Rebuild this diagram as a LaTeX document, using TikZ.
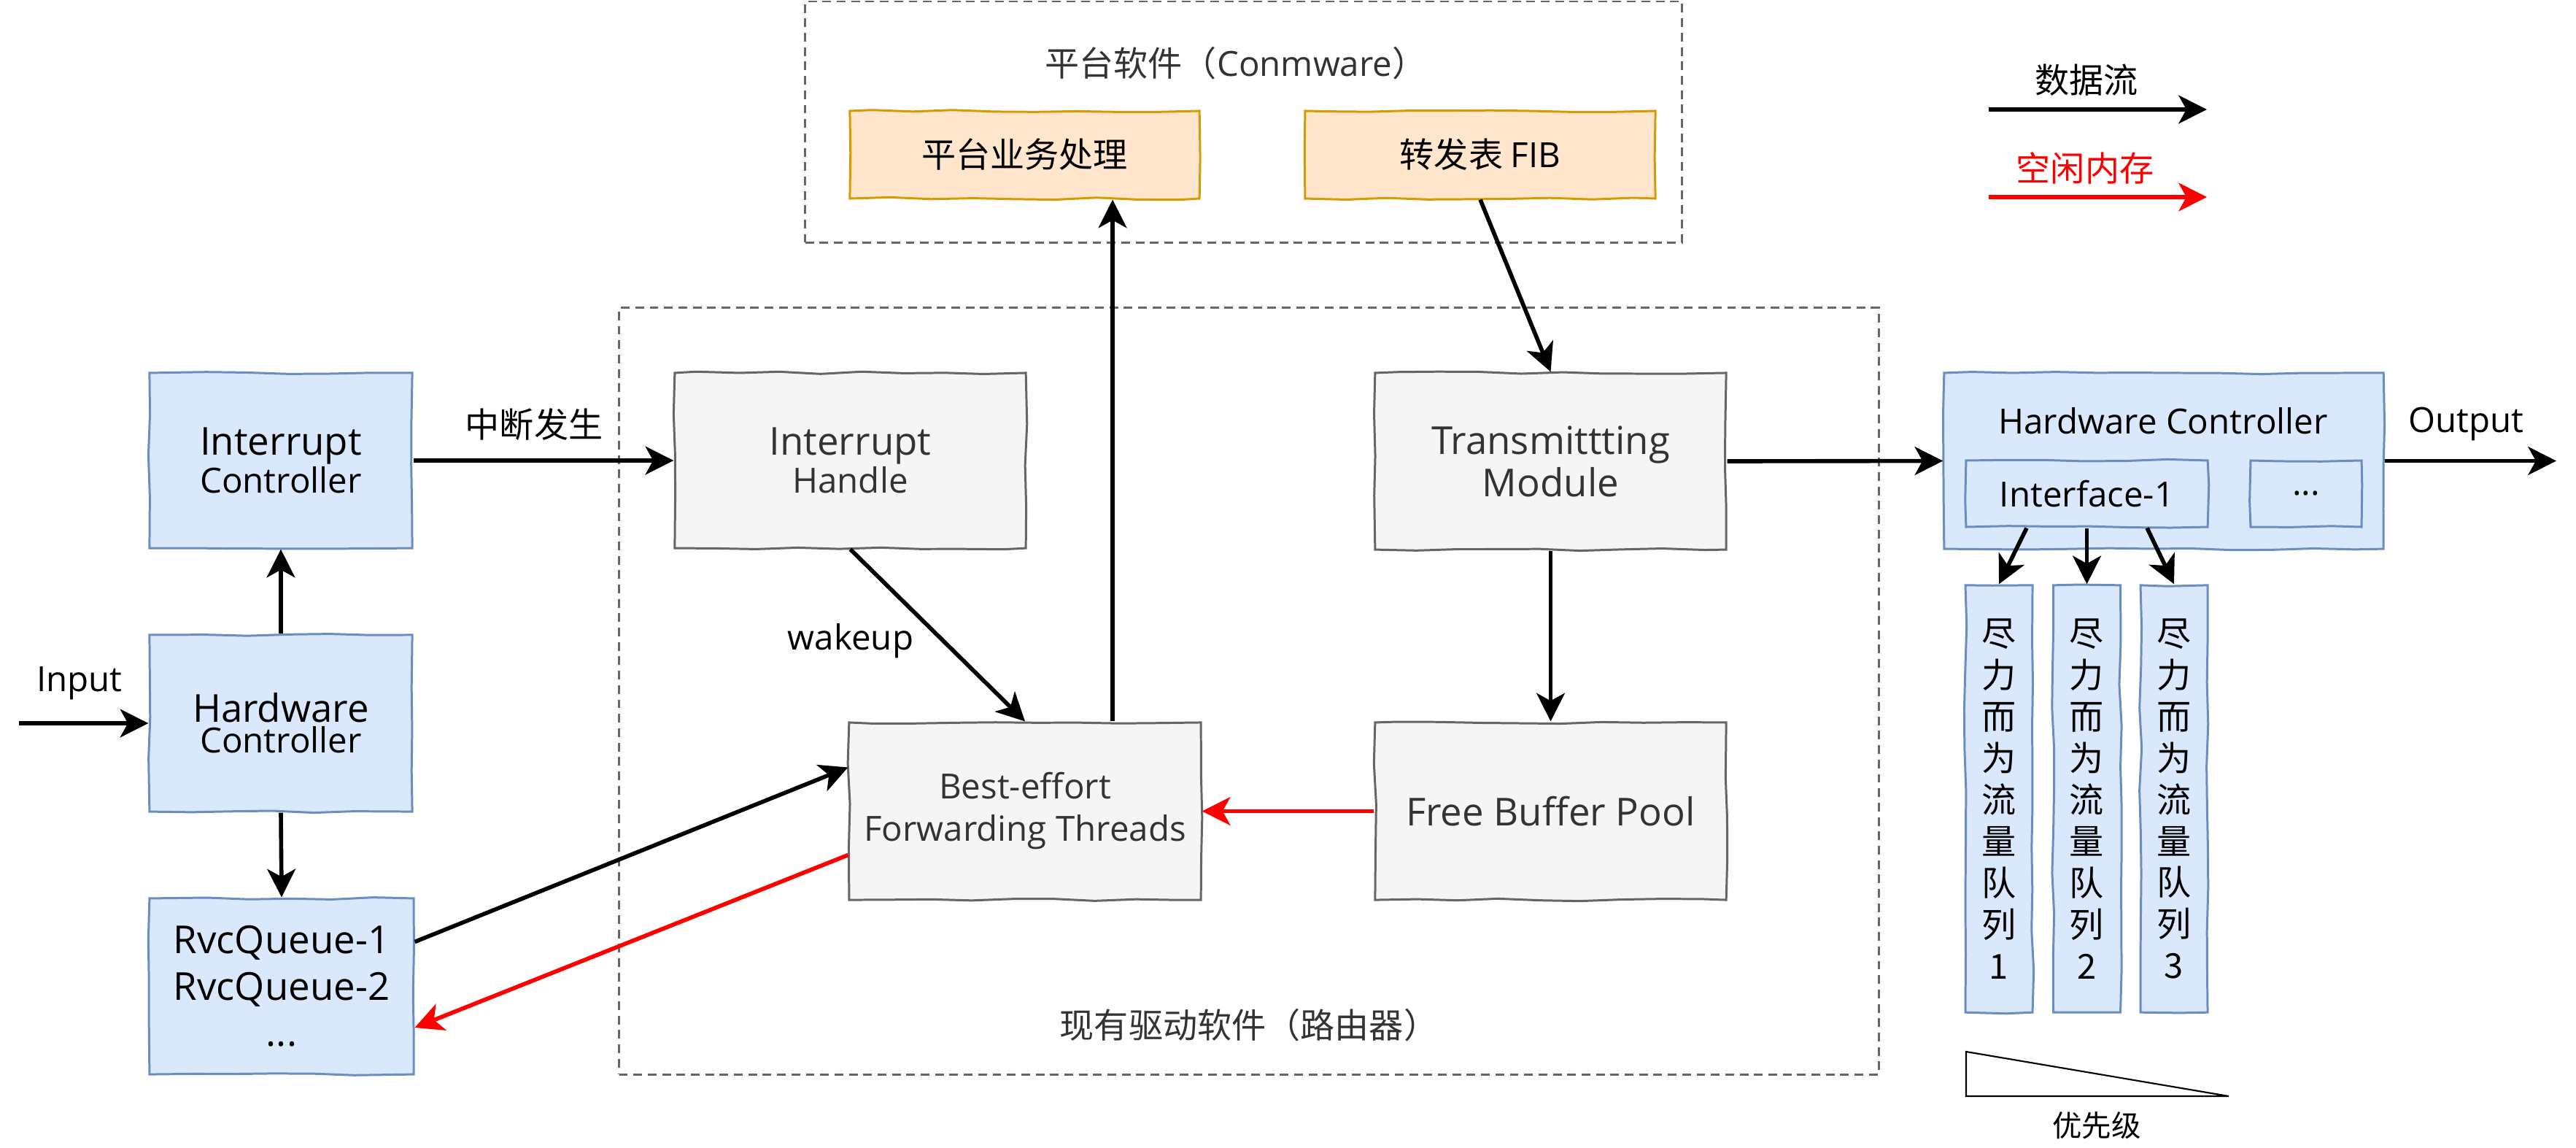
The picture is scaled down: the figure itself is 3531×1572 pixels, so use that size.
\documentclass[tikz,border=0pt]{standalone}
\usepackage{fontspec}
\setmainfont{Open Sans}
\newfontfamily\cjk{Noto Sans CJK SC}
\usetikzlibrary{arrows.meta,decorations.pathmorphing,calc}
\definecolor{bluefill}{HTML}{DAE8FC}
\definecolor{blueline}{HTML}{6C8EBF}
\definecolor{grayfill}{HTML}{F5F5F5}
\definecolor{grayline}{HTML}{666666}
\definecolor{graytext}{HTML}{333333}
\definecolor{orangefill}{HTML}{FFE6CC}
\definecolor{orangeline}{HTML}{D79B00}
\definecolor{redline}{HTML}{FF0000}
\newcommand{\fA}{\fontsize{15}{16.5}\selectfont}
\newcommand{\fB}{\fontsize{13.5}{16.5}\selectfont}
\newcommand{\fC}{\cjk\fontsize{13.4}{16.2}\selectfont}
\begin{document}
\begin{tikzpicture}[x=0.01cm,y=-0.01cm,
  sketch/.style={decorate,decoration={random steps,segment length=16pt,amplitude=0.5pt}},
  box/.style={sketch,draw,line width=0.85pt,inner sep=0pt,align=center},
  bluebox/.style={box,fill=bluefill,draw=blueline,text=black},
  graybox/.style={box,fill=grayfill,draw=grayline,text=graytext},
  orangebox/.style={box,fill=orangefill,draw=orangeline,text=black},
  container/.style={draw=grayline,line width=0.8pt,dash pattern=on 3.4pt off 2.2pt,inner sep=0pt},
  arr/.style={line width=1.6pt,-{Stealth[length=11pt,width=11pt,inset=3pt]}},
  redarr/.style={arr,draw=redline},
  lbl/.style={inner sep=0pt,align=center},
  qbox/.style={bluebox,minimum width=0.92cm,minimum height=5.85cm,font=\fC}
]
\pgfmathsetseed{11}
\useasboundingbox (0,0) rectangle (3531,1572);

% containers
\node[container,minimum width=12.01cm,minimum height=3.30cm] (topc) at (1704.5,167) {};
\node[container,minimum width=17.26cm,minimum height=10.50cm] (lowc) at (1712,947) {};
\node[lbl,text=graytext] (toptitle) at (1694,87) {{\fC 平台软件（}{\fB Conmware}{\fC ）}};
\node[lbl,text=graytext] (lowtitle) at (1712,1405) {\fC 现有驱动软件（路由器）};

% left column
\node[bluebox,minimum width=3.6cm,minimum height=2.4cm] (ic) at (385,631) {{\fA Interrupt}\\{\fB Controller}};
\node[bluebox,minimum width=3.6cm,minimum height=2.42cm] (hcl) at (385,991) {{\fA Hardware}\\{\fB Controller}};
\node[bluebox,minimum width=3.62cm,minimum height=2.41cm,font=\fontsize{15}{18}\selectfont] (rvc) at (386,1351.5) {RvcQueue-1\\RvcQueue-2\\...};

% driver software
\node[graybox,minimum width=4.81cm,minimum height=2.4cm] (ih) at (1165.5,631) {{\fA Interrupt}\\{\fB Handle}};
\node[graybox,minimum width=4.82cm,minimum height=2.43cm,font=\fontsize{13.5}{16.5}\selectfont] (be) at (1405,1111.5) {Best-effort\\Forwarding Threads};
\node[graybox,minimum width=4.81cm,minimum height=2.42cm,font=\fontsize{15}{16.5}\selectfont] (tm) at (2125.5,632) {Transmittting\\Module};
\node[graybox,minimum width=4.81cm,minimum height=2.43cm,font=\fA] (fbp) at (2125.5,1111.5) {Free Buffer Pool};

% platform software
\node[orangebox,minimum width=4.79cm,minimum height=1.2cm,font=\fC] (p1) at (1404.5,212) {平台业务处理};
\node[orangebox,minimum width=4.8cm,minimum height=1.2cm] (fib) at (2029,212) {{\fC 转发表 }{\fB FIB}};

% right hardware controller
\node[bluebox,minimum width=6.02cm,minimum height=2.41cm] (hcr) at (2966,631.5) {};
\node[lbl,font=\fB] (hcrtitle) at (2965,577) {Hardware Controller};
\node[bluebox,minimum width=3.31cm,minimum height=0.91cm,font=\fB] (if1) at (2860.5,676.5) {Interface-1};
\node[bluebox,minimum width=1.52cm,minimum height=0.91cm,font=\fB] (dots) at (3161,676.5) {...};
\node[qbox] (q1) at (2740,1094.5) {尽\\力\\而\\为\\流\\量\\队\\列\\1};
\node[qbox] (q2) at (2860.5,1094.5) {尽\\力\\而\\为\\流\\量\\队\\列\\2};
\node[qbox] (q3) at (2980,1094.5) {尽\\力\\而\\为\\流\\量\\队\\列\\3};

% labels
\node[lbl,font=\fB] (inlbl) at (109,936) {Input};
\node[lbl,font=\fC] (irqlbl) at (732,582) {中断发生};
\node[lbl,font=\fB] (wklbl) at (1166,878) {wakeup};
\node[lbl,font=\fB] (outlbl) at (3380,581) {Output};
\node[lbl,font=\fC] (leg1) at (2860,110) {数据流};
\node[lbl,font=\fC,text=redline] (leg2) at (2858,230) {空闲内存};
\node[lbl,font=\cjk\fontsize{11.5}{14}\selectfont] (prio) at (2874,1542) {优先级};

% coordinates
\coordinate (in) at (26,991);
\coordinate (out) at (3504,631.5);
\coordinate (l1s) at (2726,150);
\coordinate (l1e) at (3025,150);
\coordinate (l2s) at (2726,270);
\coordinate (l2e) at (3025,270);

% connectors
\draw[arr] (in) -- (hcl.west);
\draw[arr] (hcl.north) -- (ic.south);
\draw[arr] (hcl.south) -- (rvc.north);
\draw[arr] (ic.east) -- (ih.west);
\draw[arr] (ih.south) -- (be.north);
\draw[arr] ([xshift=1.2cm]be.north) -- ([xshift=1.2cm]be.north |- p1.south);
\draw[arr] (fib.south) -- (tm.north);
\draw[arr] (tm.south) -- (fbp.north);
\draw[arr] (tm.east) -- (hcr.west);
\draw[redarr] (fbp.west) -- (be.east);
\draw[arr] ([yshift=0.61cm]rvc.east) -- ([yshift=0.6cm]be.west);
\draw[redarr] ([yshift=-0.6cm]be.west) -- ([yshift=-0.565cm]rvc.east);
\draw[arr] (hcr.east) -- (out);
\draw[arr] ([xshift=-0.825cm]if1.south) -- (q1.north);
\draw[arr] (if1.south) -- (q2.north);
\draw[arr] ([xshift=0.825cm]if1.south) -- (q3.north);
\draw[arr] (l1s) -- (l1e);
\draw[redarr] (l2s) -- (l2e);

% priority wedge
\draw[line width=0.6pt] (2695,1441) -- (2695,1502) -- (3055,1502) -- cycle;
\end{tikzpicture}
\end{document}
